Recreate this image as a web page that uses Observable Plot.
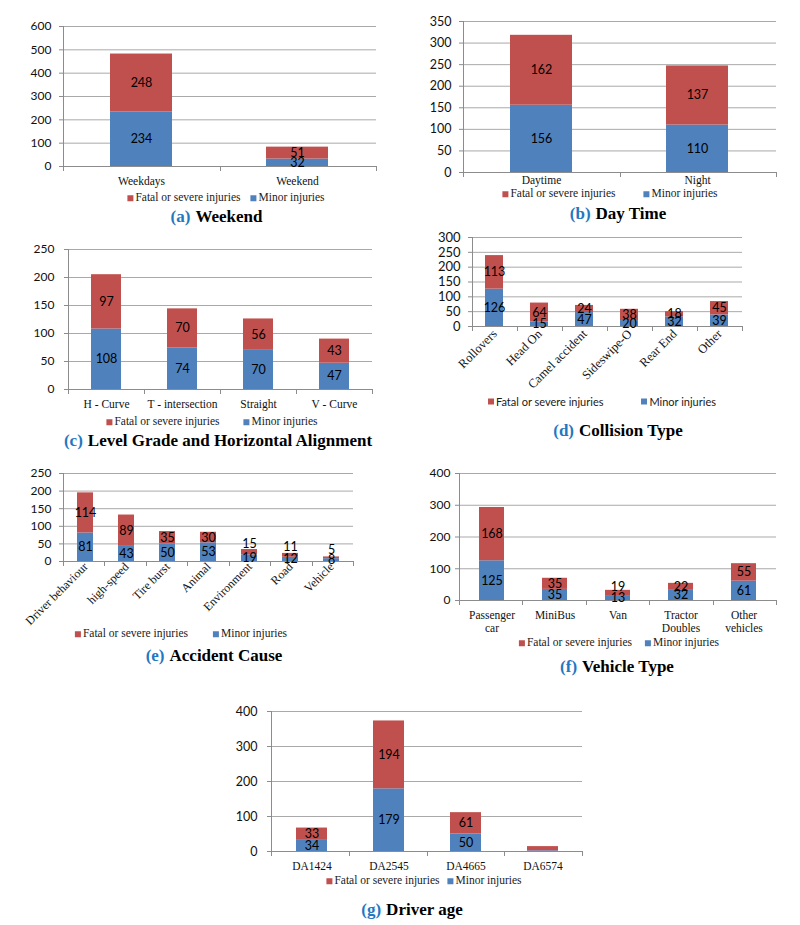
<!DOCTYPE html>
<html><head><meta charset="utf-8">
<script src="https://cdn.jsdelivr.net/npm/d3@7"></script>
<script src="https://cdn.jsdelivr.net/npm/@observablehq/plot@0.6"></script>
<style>
html,body{margin:0;padding:0;background:#fff;}
#root{position:relative;width:800px;height:925px;overflow:hidden;background:#fff;}
.panel{position:absolute;}
.legend{position:absolute;transform:translate(-50%,-50%);display:flex;align-items:center;white-space:nowrap;font-family:"Liberation Serif","Times New Roman",serif;font-size:11.5px;color:#1a1a1a;line-height:1;}
.legend.sans{font-family:Lato,"Open Sans",sans-serif;font-size:11px;}
.legend .item{display:flex;align-items:center;}
.legend .sw{display:inline-block;width:6px;height:6px;margin-right:2px;}
.caption{position:absolute;transform:translate(-50%,-50%);white-space:nowrap;font-family:"Liberation Serif","Times New Roman",serif;font-weight:bold;font-size:17px;color:#000;line-height:1;}
.caption .tag{color:#1f78c1;margin-right:5px;}
</style></head><body><div id="root"></div>
<script>
// ---------- data ----------
const seriesNames = ["Minor injuries", "Fatal or severe injuries"];
const legendOrder = ["Fatal or severe injuries", "Minor injuries"];
const seriesColors = ["#4F81BD", "#C0504D"];

const weekendCats = ["Weekdays", "Weekend"];
const weekendMinor = [234, 32];
const weekendFatal = [248, 51];
const weekendTicks = [0, 100, 200, 300, 400, 500, 600];

const dayCats = ["Daytime", "Night"];
const dayMinor = [156, 110];
const dayFatal = [162, 137];
const dayTicks = [0, 50, 100, 150, 200, 250, 300, 350];

const alignCats = ["H - Curve", "T - intersection", "Straight", "V - Curve"];
const alignMinor = [108, 74, 70, 47];
const alignFatal = [97, 70, 56, 43];
const alignTicks = [0, 50, 100, 150, 200, 250];

const collisionCats = ["Rollovers", "Head On", "Camel accident", "Sideswipe-O", "Rear End", "Other"];
const collisionMinor = [126, 15, 47, 20, 32, 39];
const collisionFatal = [113, 64, 24, 38, 18, 45];
const collisionTicks = [0, 50, 100, 150, 200, 250, 300];

const causeCats = ["Driver behaviour", "high-speed", "Tire burst", "Animal", "Environment", "Road", "Vehicle"];
const causeMinor = [81, 43, 50, 53, 19, 12, 8];
const causeFatal = [114, 89, 35, 30, 15, 11, 5];
const causeTicks = [0, 50, 100, 150, 200, 250];

const vehicleCats = ["Passenger\ncar", "MiniBus", "Van", "Tractor\nDoubles", "Other\nvehicles"];
const vehicleMinor = [125, 35, 13, 32, 61];
const vehicleFatal = [168, 35, 19, 22, 55];
const vehicleTicks = [0, 100, 200, 300, 400];

const ageCats = ["DA1424", "DA2545", "DA4665", "DA6574"];
const ageMinor = [34, 179, 50, 2];
const ageFatal = [33, 194, 61, 12];
const ageLabelled = [true, true, true, false];
const ageTicks = [0, 100, 200, 300, 400];

// ---------- layout / style ----------
const AXIS = "#8c8c8c", GRID = "#a9a9a9";
const SANS = "Lato, 'Open Sans', sans-serif";
const SERIF = "'Liberation Serif', 'Times New Roman', serif";

const panels = [
  {tag: "(a)", title: "Weekend", cats: weekendCats, minor: weekendMinor, fatal: weekendFatal, ticks: weekendTicks,
   box: [0, 0, 400, 200], m: [26, 24, 34, 63], xPad: 9.5, rot: 0, catSize: 11.5, ySize: 12, ypad: 8,
   legend: [226, 198, 10, false], caption: [216.5, 216]},
  {tag: "(b)", title: "Day Time", cats: dayCats, minor: dayMinor, fatal: dayFatal, ticks: dayTicks,
   box: [400, 0, 400, 200], m: [21, 24, 28, 63], xPad: 3, rot: 0, catSize: 11.5, ySize: 12.5, ypad: 8,
   legend: [610, 194, 28, false], caption: [618, 213]},
  {tag: "(c)", title: "Level Grade and Horizontal Alignment", cats: alignCats, minor: alignMinor, fatal: alignFatal, ticks: alignTicks,
   box: [0, 225, 400, 190], m: [24, 28, 26, 68], xPad: 9.5, rot: 0, catSize: 11.5, ySize: 12, ypad: 10,
   legend: [212, 422, 24, false], caption: [218, 440]},
  {tag: "(d)", title: "Collision Type", cats: collisionCats, minor: collisionMinor, fatal: collisionFatal, ticks: collisionTicks,
   box: [400, 225, 400, 170], m: [12, 58, 69, 72], xPad: 5, rot: -45, catSize: 12.5, ySize: 13, ypad: 8,
   legend: [602, 401, 38, true], caption: [618, 430]},
  {tag: "(e)", title: "Accident Cause", cats: causeCats, minor: causeMinor, fatal: causeFatal, ticks: causeTicks,
   box: [0, 450, 400, 185], m: [23, 47, 74, 63], xPad: 3, rot: -45, catSize: 12, ySize: 12, ypad: 8,
   legend: [181, 634, 25, false], caption: [214, 655],
   raised: ["Environment", "Road", "Vehicle"], raiseBy: -8},
  {tag: "(f)", title: "Vehicle Type", cats: vehicleCats, minor: vehicleMinor, fatal: vehicleFatal, ticks: vehicleTicks,
   box: [400, 450, 400, 185], m: [23, 24, 35, 59], xPad: 9.5, rot: 0, catSize: 11.5, ySize: 12, ypad: 5,
   legend: [619, 643, 13, false], caption: [617, 666],
   raised: ["Van"], raiseBy: -6},
  {tag: "(g)", title: "Driver age", cats: ageCats, minor: ageMinor, fatal: ageFatal, ticks: ageTicks, labelled: ageLabelled,
   box: [200, 680, 400, 195], m: [31, 18, 24, 71], xPad: 9.5, rot: 0, catSize: 11.5, ySize: 12.5, ypad: 10,
   legend: [424, 881, 8, false], caption: [412, 909]}
];

function frameMarks(n) {
  return (index, scales, values, dims) => {
    const {width, height, marginLeft, marginRight, marginTop, marginBottom} = dims;
    const g = d3.create("svg:g").attr("stroke", AXIS).attr("fill", "none").attr("stroke-width", 1);
    const x0 = marginLeft, x1 = width - marginRight, y0 = height - marginBottom;
    g.append("line").attr("x1", x0 + 0.5).attr("x2", x0 + 0.5).attr("y1", marginTop).attr("y2", y0 + 0.5);
    for (let k = 0; k <= n; k++) {
      const x = Math.round(x0 + k * (x1 - x0) / n) + 0.5;
      g.append("line").attr("x1", x).attr("x2", x).attr("y1", y0).attr("y2", y0 + 5);
    }
    return g.node();
  };
}

const root = document.getElementById("root");

for (const p of panels) {
  const raised = new Set(p.raised || []);
  const rows = [];
  p.cats.forEach((c, i) => {
    const show = p.labelled ? p.labelled[i] : true;
    rows.push({cat: c, series: seriesNames[0], value: p.minor[i], show, raise: false});
    rows.push({cat: c, series: seriesNames[1], value: p.fatal[i], show, raise: raised.has(c)});
  });
  const [left, top, width, height] = p.box;
  const [mt, mr, mb, ml] = p.m;
  const labelOpts = {x: "cat", y: "value", z: "series", order: null, fill: "#000", fontSize: 12.5, fontFamily: SANS};
  const chart = Plot.plot({
    width, height,
    marginTop: mt, marginRight: mr, marginBottom: mb, marginLeft: ml,
    style: {fontFamily: SANS, fontSize: "12px", background: "transparent", overflow: "visible", color: "#000"},
    x: {type: "band", domain: p.cats, paddingInner: 0.6, paddingOuter: 0.3, label: null},
    y: {domain: [0, p.ticks[p.ticks.length - 1]], label: null},
    color: {domain: seriesNames, range: seriesColors},
    marks: [
      Plot.gridY(p.ticks, {stroke: GRID, strokeOpacity: 1}),
      Plot.barY(rows, Plot.stackY({x: "cat", y: "value", z: "series", fill: "series", order: null})),
      Plot.ruleY([0], {stroke: AXIS}),
      frameMarks(p.cats.length),
      Plot.text(rows, Plot.stackY({...labelOpts, text: d => d.show && !d.raise ? String(d.value) : ""})),
      Plot.text(rows, Plot.stackY({...labelOpts, dy: p.raiseBy || 0, text: d => d.show && d.raise ? String(d.value) : ""})),
      Plot.axisY(p.ticks, {tickSize: 4, tickPadding: p.ypad, stroke: AXIS, fill: "#111", fontSize: p.ySize, fontFamily: SANS, label: null}),
      Plot.axisX({tickSize: 0, tickPadding: p.xPad, tickRotate: p.rot, fill: "#111", fontSize: p.catSize, fontFamily: SERIF, label: null, lineHeight: 1.1})
    ]
  });
  const wrap = document.createElement("div");
  wrap.className = "panel";
  wrap.style.left = left + "px";
  wrap.style.top = top + "px";
  wrap.appendChild(chart);
  root.appendChild(wrap);

  const [lcx, lcy, gap, sans] = p.legend;
  const lg = document.createElement("div");
  lg.className = "legend" + (sans ? " sans" : "");
  lg.style.left = lcx + "px";
  lg.style.top = lcy + "px";
  legendOrder.forEach((name, k) => {
    const it = document.createElement("span");
    it.className = "item";
    if (k > 0) it.style.marginLeft = gap + "px";
    const sw = document.createElement("span");
    sw.className = "sw";
    sw.style.background = seriesColors[seriesNames.indexOf(name)];
    it.appendChild(sw);
    it.appendChild(document.createTextNode(name));
    lg.appendChild(it);
  });
  root.appendChild(lg);

  const [ccx, ccy] = p.caption;
  const cap = document.createElement("div");
  cap.className = "caption";
  cap.style.left = ccx + "px";
  cap.style.top = ccy + "px";
  const tag = document.createElement("span");
  tag.className = "tag";
  tag.textContent = p.tag;
  cap.appendChild(tag);
  cap.appendChild(document.createTextNode(p.title));
  root.appendChild(cap);
}
</script></body></html>
